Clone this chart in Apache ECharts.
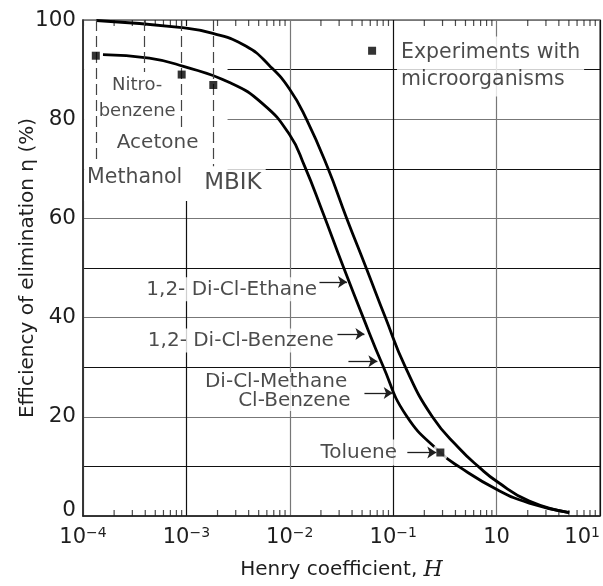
<!DOCTYPE html>
<html>
<head>
<meta charset="utf-8">
<script src="https://cdn.jsdelivr.net/npm/echarts@6/dist/echarts.min.js"></script>
<style>
html, body { margin: 0; padding: 0; background: #fff; }
#chart-container { width: 603px; height: 586px; }
</style>
</head>
<body>
<div id="chart-container"></div>
<script>
var dom = document.getElementById('chart-container');
var myChart = echarts.init(dom, null, {
    renderer: 'canvas',
    useDirtyRect: false
});

var FONT = 'DejaVu Sans';
var INK = '#1e1e1e';

// upper curve (H, efficiency %)
var upperH = [1.347e-4, 8.60e-4, 1.803e-3, 3.79e-3, 6.366e-3, 9.933e-3, 0.0144, 0.02329, 0.03553, 0.05483, 0.08406, 0.1312, 0.2391, 0.4361, 0.6806, 1.016, 2.07, 5.04];
var upperEta = [99.9, 98.5, 97.3, 94.7, 90.8, 86.1, 80.1, 70.2, 60.0, 50.0, 40.0, 30.0, 20.0, 13.6, 9.8, 6.9, 3.0, 0.66];

// lower curve
var lowerH = [1.56e-4, 4.38e-4, 9.19e-4, 2.615e-3, 5.483e-3, 9.933e-3, 0.01387, 0.02069, 0.03229, 0.0504, 0.07916, 0.1332, 0.2858, 0.4361, 1.016, 2.07, 5.04];
var lowerEta = [93.0, 92.3, 90.7, 87.4, 83.1, 76.9, 70.6, 61.4, 50.7, 40.4, 30.4, 20.3, 12.8, 9.9, 5.3, 2.6, 0.66];

// experiments with microorganisms (squares), last one is the key
var expNames = ['Methanol', 'Acetone', 'MBIK', 'Toluene', 'key'];
var expH = [1.33e-4, 9.0e-4, 1.82e-3, 0.2858, 0.0625];
var expEta = [92.8, 89.0, 86.9, 12.8, 93.8];

// dashed guide lines from the top
var guideH = [1.33e-4, 3.94e-4, 9.0e-4, 1.82e-3];
var guideEnd = [71.5, 89.5, 78.1, 70.5];

// arrows
var arrowFromH = [0.01936, 0.0289, 0.0369, 0.0527, 0.137];
var arrowToH = [0.0357, 0.0527, 0.0703, 0.0989, 0.261];
var arrowEta = [47.2, 36.7, 31.2, 24.8, 12.8];

// annotation texts and anchors
var noteTexts = ['Nitro-\nbenzene', 'Acetone', 'Methanol', 'MBIK', 'Experiments with\nmicroorganisms',
    '1,2- Di-Cl-Ethane', '1,2- Di-Cl-Benzene', 'Di-Cl-Methane', 'Cl-Benzene', 'Toluene'];
var noteH = [3.34e-4, 5.27e-4, 3.16e-4, 2.82e-3, 0.1076, 0.01853, 0.0270, 0.0363, 0.0392, 0.115];
var noteEta = [84.3, 75.3, 68.3, 67.2, 90.6, 45.7, 35.4, 27.0, 23.2, 12.8];

// axis ticks
var decadeLabels = [['10', '\u22124'], ['10', '\u22123'], ['10', '\u22122'], ['10', '\u22121'], ['10', ''], ['10', '1']];
var minorMant = [2, 3, 4, 5, 6, 7, 8, 9];
var minorDecades = [1e-4, 1e-3, 1e-2, 1e-1, 1];

function pairs(xs, ys) {
    return xs.map(function (x, i) { return [x, ys[i]]; });
}

var minorTicks = [];
minorDecades.forEach(function (d) {
    minorMant.forEach(function (m) { minorTicks.push(m * d); });
});

var noteLabel = [
    { position: 'inside', fontSize: 18, lineHeight: 26 },
    { position: 'inside', fontSize: 20 },
    { position: 'inside', fontSize: 20.5 },
    { position: 'inside', fontSize: 23, backgroundColor: '#fff', padding: [3, 4] },
    { position: 'right', distance: 0, fontSize: 20.5, lineHeight: 27, align: 'left', backgroundColor: '#fff', padding: [3, 4] },
    { position: 'left', distance: 0, fontSize: 20, backgroundColor: '#fff', padding: [2, 0, 2, 3] },
    { position: 'left', distance: 0, fontSize: 20, backgroundColor: '#fff', padding: [2, 0, 2, 3] },
    { position: 'left', distance: 0, fontSize: 20, backgroundColor: '#fff', padding: [0, 0, 0, 3] },
    { position: 'left', distance: 0, fontSize: 20, backgroundColor: '#fff', padding: [0, 0, 0, 3] },
    { position: 'left', distance: 0, fontSize: 20, backgroundColor: '#fff', padding: [3, 2, 3, 3] }
];

var curveStyle = { color: '#000', width: 2.8 };

var option = {
    animation: false,
    backgroundColor: '#fff',
    grid: {
        left: 83, right: 2, top: 20, bottom: 63,
        show: true, borderColor: '#666', borderWidth: 1.5
    },
    xAxis: {
        type: 'log',
        logBase: 10,
        min: 1e-4,
        max: 10,
        interval: 1,
        name: '{a|Henry coefficient, }{h|H}',
        nameLocation: 'middle',
        nameGap: 43,
        nameMoveOverlap: false,
        nameTextStyle: {
            rich: {
                a: { fontFamily: FONT, fontSize: 20, color: INK },
                h: { fontFamily: 'DejaVu Serif', fontStyle: 'italic', fontSize: 22, color: INK }
            }
        },
        axisLine: { lineStyle: { color: INK, width: 1.5 } },
        axisTick: { show: false },
        splitLine: { show: true, lineStyle: { color: ['#777', '#111'], width: 1.2 } },
        axisLabel: {
            margin: 10,
            alignMaxLabel: 'right',
            formatter: function (v) {
                var i = Math.round(Math.log10(v)) + 4;
                var p = decadeLabels[i];
                return p[1] ? '{b|' + p[0] + '}{s|' + p[1] + '}' : '{b|' + p[0] + '}';
            },
            rich: {
                b: { fontFamily: FONT, fontSize: 21, color: INK, lineHeight: 24 },
                s: { fontFamily: FONT, fontSize: 14, color: INK, lineHeight: 14, verticalAlign: 'top' }
            }
        }
    },
    yAxis: {
        type: 'value',
        min: 0,
        max: 100,
        interval: 10,
        name: 'Efficiency of elimination \u03b7 (%)',
        nameLocation: 'middle',
        nameGap: 45,
        nameMoveOverlap: false,
        nameTextStyle: { fontFamily: FONT, fontSize: 20, color: INK },
        axisLine: { show: true, lineStyle: { color: INK, width: 1.5 } },
        axisTick: { show: false },
        splitLine: { show: true, lineStyle: { color: ['#777', '#111'], width: 1.2 } },
        axisLabel: {
            margin: 7,
            fontFamily: FONT,
            fontSize: 21.5,
            color: INK,
            formatter: function (v) {
                if (v === 0) return '{z|0}';
                return v % 20 === 0 ? String(v) : '';
            },
            rich: {
                z: { fontFamily: FONT, fontSize: 21.5, color: INK, padding: [0, 0, 11, 0] }
            }
        }
    },
    series: [
        {
            // white panel behind the compound names
            type: 'line',
            z: 1,
            silent: true,
            data: [],
            markArea: {
                silent: true,
                itemStyle: { color: '#fff', opacity: 1, borderWidth: 0 },
                data: [[{ coord: [1.025e-4, 63.5] }, { coord: [2.5e-3, 98.8] }]]
            }
        },
        {
            type: 'scatter',
            z: 1,
            silent: true,
            symbolSize: 1,
            itemStyle: { color: 'rgba(0,0,0,0)' },
            data: noteTexts.map(function (t, i) {
                return {
                    value: [noteH[i], noteEta[i]],
                    label: Object.assign({
                        show: true,
                        formatter: t,
                        fontFamily: FONT,
                        color: INK
                    }, noteLabel[i])
                };
            })
        },
        {
            // minor ticks, bottom and top
            type: 'scatter',
            z: 2,
            silent: true,
            clip: false,
            symbol: 'rect',
            itemStyle: { color: INK },
            data: minorTicks.map(function (h) {
                return { value: [h, 0], symbolSize: [1.2, 6], symbolOffset: [0, -3] };
            }).concat(minorTicks.map(function (h) {
                return { value: [h, 100], symbolSize: [1.2, 6], symbolOffset: [0, 3] };
            }))
        },
        {
            type: 'line',
            z: 3,
            smooth: 0.5,
            showSymbol: false,
            silent: true,
            lineStyle: curveStyle,
            data: pairs(upperH, upperEta)
        },
        {
            type: 'line',
            z: 3,
            smooth: 0.5,
            showSymbol: false,
            silent: true,
            lineStyle: curveStyle,
            data: pairs(lowerH, lowerEta)
        },
        {
            // white halo round the Toluene point
            type: 'scatter',
            z: 4,
            silent: true,
            symbol: 'circle',
            symbolSize: 17,
            itemStyle: { color: '#fff' },
            data: [[expH[3], expEta[3]]]
        },
        {
            type: 'scatter',
            z: 5,
            silent: true,
            symbol: 'rect',
            symbolSize: 8,
            itemStyle: { color: '#000' },
            data: pairs(expH, expEta),
            markLine: {
                silent: true,
                symbol: ['none', 'none'],
                label: { show: false },
                lineStyle: { color: '#444', width: 1.2, type: [11, 5] },
                data: guideH.map(function (h, i) {
                    return [{ coord: [h, 100] }, { coord: [h, guideEnd[i]] }];
                })
            }
        },
        {
            type: 'line',
            z: 6,
            silent: true,
            data: [],
            markLine: {
                silent: true,
                symbol: ['none', 'arrow'],
                symbolSize: 9,
                label: { show: false },
                lineStyle: { color: INK, width: 1.3, type: 'solid' },
                itemStyle: { color: INK },
                data: arrowFromH.map(function (h, i) {
                    return [{ coord: [h, arrowEta[i]] }, { coord: [arrowToH[i], arrowEta[i]] }];
                })
            }
        }
    ]
};

if (option && typeof option === 'object') {
    myChart.setOption(option);
}

window.addEventListener('resize', myChart.resize);
</script>
</body>
</html>
